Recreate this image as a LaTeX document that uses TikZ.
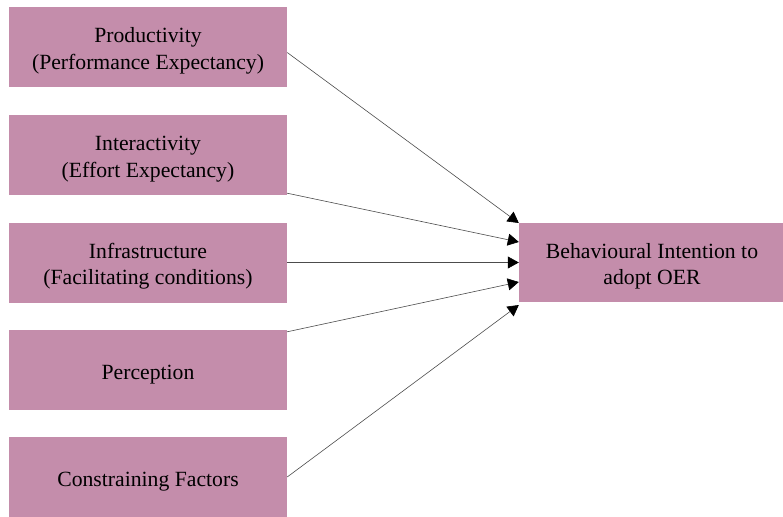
\documentclass[tikz,border=0pt]{standalone}
\usepackage{fontspec}
\setmainfont{Liberation Serif}
\usepackage{xcolor}
\usepackage{tikz}
\usetikzlibrary{arrows.meta}

\definecolor{boxpink}{RGB}{196,141,171}
\tikzset{
	factor/.style={fill=boxpink,minimum width=278pt,minimum height=80pt,align=center,inner sep=0pt,
		font=\fontsize{21.7}{26.5}\selectfont,text height=49pt,text depth=5pt},
	single/.style={text height=23pt,text depth=5pt},
	link/.style={draw=black!70,line width=0.6pt,-{Triangle[length=11pt,width=12pt,color=black]}}
}

\begin{document}
\begin{tikzpicture}[x=1pt,y=-1pt]
\useasboundingbox (0,0) rectangle (783,516);
\node[factor] (prod) at (148,47.5) {Productivity\\(Performance Expectancy)};
\node[factor] (inter) at (148,155) {Interactivity\\(Effort Expectancy)};
\node[factor] (infra) at (148,262.5) {Infrastructure\\(Facilitating conditions)};
\node[factor,single] (perc) at (148,370) {Perception};
\node[factor,single] (constr) at (148,477) {Constraining Factors};
\node[factor,minimum width=266pt,minimum height=79pt] (bi) at (652,262.5) {Behavioural Intention to\\adopt OER};
\draw[link] ([yshift=-5pt]prod.east) -- ([yshift=39.5pt]bi.west);
\draw[link] ([yshift=2pt]inter.south east) -- ([yshift=20.5pt]bi.west);
\draw[link] (infra.east) -- (bi.west);
\draw[link] ([yshift=-2pt]perc.north east) -- ([yshift=-19.5pt]bi.west);
\draw[link] (constr.east) -- ([yshift=-42.5pt]bi.west);
\end{tikzpicture}
\end{document}
